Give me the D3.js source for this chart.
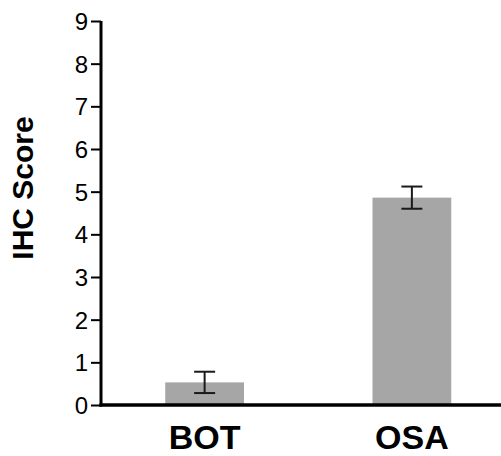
<!DOCTYPE html>
<html>
<head>
<meta charset="utf-8">
<script src="https://cdn.jsdelivr.net/npm/d3@7"></script>
<style>
  html, body { margin: 0; padding: 0; background: #fff; }
  svg { display: block; }
</style>
</head>
<body>
<svg id="chart" width="501" height="456"></svg>
<script>
const categories = ["BOT", "OSA"];
const means = [0.53, 4.86];
const errors = [0.25, 0.26];
const yTicks = [0, 1, 2, 3, 4, 5, 6, 7, 8, 9];

const svg = d3.select("#chart");
const font = "Arial, 'Liberation Sans', Helvetica, sans-serif";

const y = d3.scaleLinear().domain([0, 9]).range([405, 21]);
const x = d3.scaleBand().domain(categories).range([101, 515.5])
  .paddingInner(0.62).paddingOuter(0.31);

// bars
svg.selectAll("rect.bar").data(categories).enter().append("rect")
  .attr("class", "bar")
  .attr("x", d => x(d))
  .attr("width", x.bandwidth())
  .attr("y", (d, i) => y(means[i]))
  .attr("height", (d, i) => y(0) - y(means[i]))
  .attr("fill", "#a6a6a6");

// error bars
const capW = 21;
categories.forEach((c, i) => {
  const cx = x(c) + x.bandwidth() / 2;
  const g = svg.append("g").attr("stroke", "#1a1a1a").attr("stroke-width", 2);
  g.append("line").attr("x1", cx).attr("x2", cx)
    .attr("y1", y(means[i] + errors[i])).attr("y2", y(means[i] - errors[i]));
  g.append("line").attr("x1", cx - capW / 2).attr("x2", cx + capW / 2)
    .attr("y1", y(means[i] + errors[i])).attr("y2", y(means[i] + errors[i]));
  g.append("line").attr("x1", cx - capW / 2).attr("x2", cx + capW / 2)
    .attr("y1", y(means[i] - errors[i])).attr("y2", y(means[i] - errors[i]));
});

// y axis
const yAxis = d3.axisLeft(y).tickValues(yTicks).tickSize(10).tickPadding(3)
  .tickFormat(d3.format("d"));
const ya = svg.append("g").attr("transform", "translate(101,0)").call(yAxis);
ya.select(".domain").remove();
ya.selectAll(".tick line").attr("stroke", "#000").attr("stroke-width", 2);
ya.selectAll(".tick text").attr("font-family", font).attr("font-size", 24)
  .attr("fill", "#000").attr("dy", "0.36em");
svg.append("line").attr("x1", 101).attr("x2", 101)
  .attr("y1", y(9)).attr("y2", y(0) + 1.5)
  .attr("stroke", "#000").attr("stroke-width", 3);

// x axis line
svg.append("line").attr("x1", 99.5).attr("x2", 501)
  .attr("y1", y(0)).attr("y2", y(0))
  .attr("stroke", "#000").attr("stroke-width", 3.5);

// x labels
svg.selectAll("text.xlab").data(categories).enter().append("text")
  .attr("class", "xlab")
  .attr("x", d => x(d) + x.bandwidth() / 2)
  .attr("y", 449)
  .attr("text-anchor", "middle")
  .attr("font-family", font).attr("font-weight", "bold")
  .attr("font-size", 34).attr("fill", "#000")
  .text(d => d);

// y title
svg.append("text")
  .attr("transform", "translate(33,188) rotate(-90)")
  .attr("text-anchor", "middle")
  .attr("font-family", font).attr("font-weight", "bold")
  .attr("font-size", 30).attr("fill", "#000")
  .text("IHC Score");
</script>
</body>
</html>
